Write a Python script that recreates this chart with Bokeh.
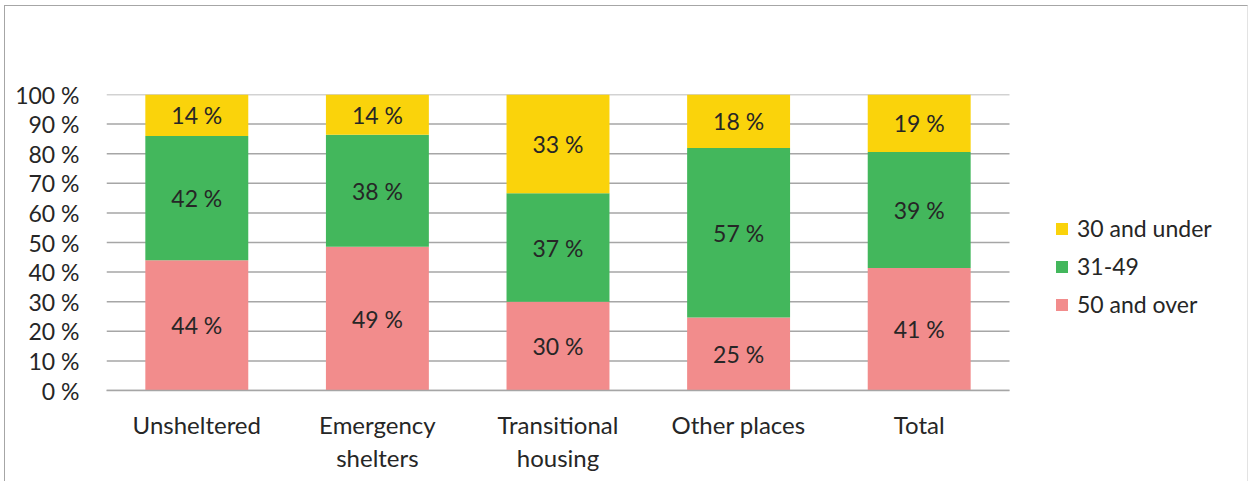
from bokeh.plotting import figure
from bokeh.models import ColumnDataSource, FixedTicker, Legend, LegendItem, Range1d
from bokeh.core.properties import value
from bokeh.embed import file_html
from bokeh.resources import INLINE

categories = ["Unsheltered", "Emergency\nshelters", "Transitional\nhousing", "Other places", "Total"]
over_50 = [44.0, 48.6, 30.0, 24.7, 41.4]
mid_31_49 = [42.0, 37.8, 36.6, 57.2, 39.2]
under_30 = [14.0, 13.6, 33.4, 18.1, 19.4]
series = ["50 and over", "31-49", "30 and under"]
colors = ["#F28C8C", "#43B75C", "#FAD30B"]
y_ticks = [0, 10, 20, 30, 40, 50, 60, 70, 80, 90, 100]

FONT = "Lato"
FS = "23px"
TXT = "#262626"
GRID = "#A6A6A6"

xs = list(range(len(categories)))
src = ColumnDataSource(dict(x=xs, s0=over_50, s1=mid_31_49, s2=under_30))

W, H = 1244, 476
LEFT = 101
unit = 903 / len(categories)          # pixel width of one category slot
x_end = -0.5 + (W - LEFT) / unit       # leave room on the right for the legend

p = figure(x_range=Range1d(-0.5, x_end), y_range=Range1d(0, 100),
           width=W, height=H, output_backend="svg", toolbar_location=None,
           min_border_left=LEFT, min_border_right=0, min_border_top=88, min_border_bottom=92)
p.styles = {"border-left": "1.5px solid #A6A6A6", "border-top": "1.5px solid #A6A6A6",
            "border-right": "1px solid #E3E3E3", "margin": "5px 0 0 4px"}
p.outline_line_color = None
p.xgrid.grid_line_color = None
p.ygrid.grid_line_color = None

# horizontal gridlines limited to the category area
p.segment(x0=[-0.5] * len(y_ticks), x1=[len(categories) - 0.5] * len(y_ticks), y0=y_ticks, y1=y_ticks,
          line_color=GRID, line_width=1.5, level="underlay")

rs = p.vbar_stack(["s0", "s1", "s2"], x="x", width=0.57, color=colors, line_color=None, source=src)

# data labels
lx, ly, lt = [], [], []
for i in xs:
    base = 0.0
    for vals in (over_50, mid_31_49, under_30):
        v = vals[i]
        lx.append(i)
        ly.append(base + v / 2)
        lt.append(f"{round(v)} %")
        base += v
p.text(x=lx, y=ly, text=lt, text_align="center", text_baseline="middle",
       text_font=value(FONT), text_font_size=FS, text_color=TXT)

# axes
p.yaxis.ticker = FixedTicker(ticks=y_ticks)
p.yaxis.major_label_overrides = {t: f"{t} %" for t in y_ticks}
p.yaxis.axis_line_color = None
p.yaxis.major_tick_line_color = None
p.yaxis.minor_tick_line_color = None
p.yaxis.major_label_standoff = 21
p.yaxis.major_label_text_font = FONT
p.yaxis.major_label_text_font_size = FS
p.yaxis.major_label_text_color = TXT

p.xaxis.ticker = FixedTicker(ticks=xs)
p.xaxis.major_label_overrides = {i: c for i, c in zip(xs, categories)}
p.xaxis.bounds = (-0.5, len(categories) - 0.5)
p.xaxis.axis_line_color = GRID
p.xaxis.axis_line_width = 1.5
p.xaxis.major_tick_line_color = None
p.xaxis.minor_tick_line_color = None
p.xaxis.major_label_standoff = 13
p.xaxis.major_label_text_font = FONT
p.xaxis.major_label_text_font_size = "24px"
p.xaxis.major_label_text_color = TXT
p.xaxis.major_label_text_line_height = 1.15

items = [LegendItem(label=series[i], renderers=[rs[i]]) for i in (2, 1, 0)]
legend = Legend(items=items, location=(948, 72), background_fill_alpha=0, border_line_color=None,
                label_text_font=FONT, label_text_font_size=FS, label_text_color=TXT,
                glyph_width=15, glyph_height=15, label_height=22, spacing=10, padding=0,
                margin=0, label_standoff=8)
p.add_layout(legend, "center")

open("out.html", "w").write(file_html(p, INLINE))
